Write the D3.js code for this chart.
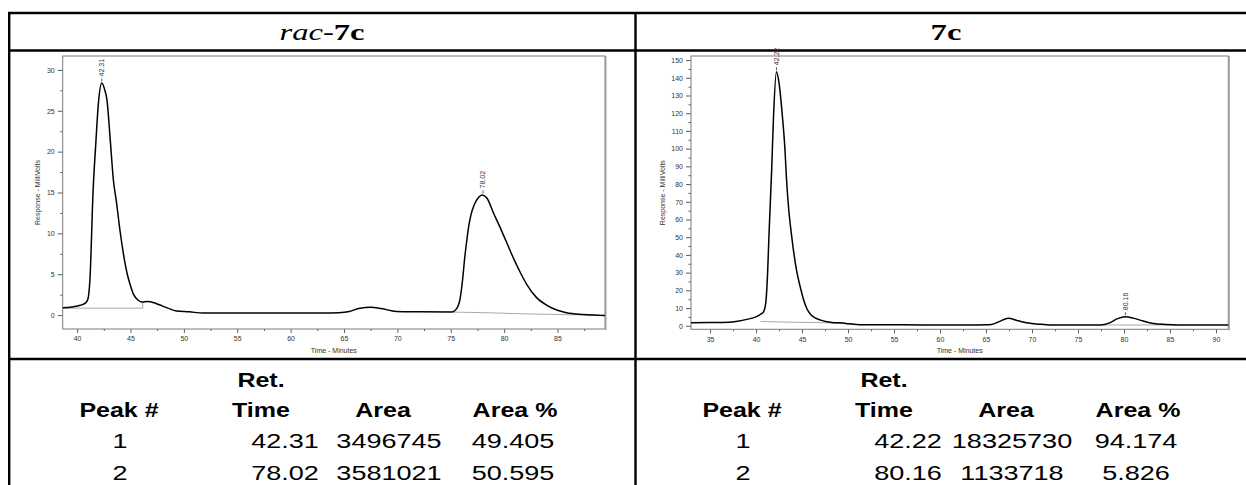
<!DOCTYPE html>
<html lang="en">
<head>
    <meta charset="UTF-8">
    <title>rac-7c / 7c HPLC</title>
    <script src="https://d3js.org/d3.v7.min.js"></script>
    <style>
        body { margin: 0; background: #fff; }
        .grid { stroke: #000; stroke-width: 2.4px; }
        .frame { fill: none; stroke: #7a7a7a; stroke-width: 1px; }
        .axis text { font-family: "Liberation Sans", Arial, sans-serif; font-size: 7px; fill: #333; }
        .axis line { stroke: #333; stroke-width: 0.8px; }
        .trace { fill: none; stroke: #000; stroke-width: 1.5px; stroke-linejoin: round; }
        .base { fill: none; stroke: #aaa; stroke-width: 1px; }
        .small { font-family: "Liberation Sans", Arial, sans-serif; font-size: 7px; fill: #333; }
        .title { font-family: "Liberation Serif", "Times New Roman", serif; font-size: 24px; }
        .cell { font-family: "Liberation Sans", Arial, sans-serif; font-size: 20.5px; fill: #000; }
    </style>
</head>
<body>
<svg width="1246" height="485"></svg>
<script>
    // ---- data ----
    var headTop = ["", "Ret.", "", ""];
    var headBottom = ["Peak #", "Time", "Area", "Area %"];
    var racRows = [["1", "42.31", "3496745", "49.405"], ["2", "78.02", "3581021", "50.595"]];
    var eeRows = [["1", "42.22", "18325730", "94.174"], ["2", "80.16", "1133718", "5.826"]];

    // rac-7c trace: [minutes, millivolts]
    var racTrace = [
        [38.65, 0.9], [39.5, 1.0], [40.3, 1.2], [40.8, 1.5], [41.0, 1.9], [41.2, 4.3],
        [41.5, 15.3], [41.75, 21], [42.0, 26], [42.31, 28.4], [42.6, 27.5], [42.8, 26.3],
        [43.1, 21.5], [43.4, 16.5], [43.7, 13.7], [44.0, 10.5], [44.3, 7.8], [44.7, 5.0],
        [45.0, 3.6], [45.3, 2.5], [45.7, 1.85], [46.1, 1.6], [46.6, 1.65], [47.2, 1.5],
        [47.7, 1.26], [48.5, 0.85], [49.3, 0.5], [50.5, 0.4], [51.8, 0.25], [55, 0.25],
        [60, 0.25], [63, 0.25], [64.5, 0.3], [65.5, 0.45], [66.5, 0.85], [67.5, 0.95],
        [68.5, 0.8], [69.9, 0.45], [72, 0.4], [75.1, 0.37], [75.5, 0.7], [75.86, 1.9],
        [76.1, 4.2], [76.3, 6.9], [76.5, 9.1], [76.7, 11.0], [76.9, 12.3], [77.2, 13.5],
        [77.6, 14.4], [77.95, 14.7], [78.4, 14.3], [79.0, 12.5], [79.6, 10.8], [80.2, 9.0],
        [81.0, 6.6], [81.6, 5.0], [82.1, 3.8], [83.0, 2.2], [84.0, 1.2], [85.0, 0.6],
        [85.85, 0.3], [87.4, 0.08], [89.45, -0.05]
    ];
    var racBase1 = [[38.65, 0.85], [46.15, 0.85], [46.15, 1.6]];
    var racBase2 = [[75.1, 0.37], [78, 0.3], [82, 0.15], [86, 0.05], [88.5, 0.0]];
    var racPeaks = [[42.31, 28.4, "42.31"], [78.02, 14.7, "78.02"]];

    // 7c trace
    var eeTrace = [
        [32.93, 1.7], [35, 1.8], [37, 2.0], [38, 2.6], [39, 3.6], [40, 5.0], [40.5, 6.5],
        [40.8, 7.7], [41.05, 12.6], [41.27, 31.4], [41.4, 50.3], [41.7, 88], [41.9, 118],
        [42.22, 143.4], [42.5, 137], [42.87, 118], [43.15, 99], [43.3, 84], [43.5, 69],
        [43.88, 50.3], [44.4, 31.4], [44.8, 22], [45.3, 12.6], [46.2, 5.1], [47.7, 2.3],
        [49.8, 1.3], [50.6, 0.8], [52, 0.5], [56, 0.5], [60, 0.4], [63, 0.4], [65, 0.5],
        [65.6, 0.7], [66.5, 2.5], [67.4, 4.2], [68.5, 2.8], [69.8, 1.35], [71, 0.8],
        [72.3, 0.4], [77.4, 0.4], [78.5, 1.8], [79.3, 4.0], [80.16, 5.1], [81, 4.3],
        [82, 2.8], [83.2, 1.3], [84.5, 0.7], [85.7, 0.4], [91.34, 0.4]
    ];
    var eeBase1 = [[40.5, 2.4], [44, 2.0], [47.7, 1.7], [50.6, 0.9]];
    var eeBase2 = [[77.4, 0.45], [85.7, 0.45]];
    var eePeaks = [[42.22, 143.4, "42.22"], [80.16, 5.1, "80.16"]];

    var racXTicks = [40, 45, 50, 55, 60, 65, 70, 75, 80, 85];
    var racYTicks = [0, 5, 10, 15, 20, 25, 30];
    var eeXTicks = [35, 40, 45, 50, 55, 60, 65, 70, 75, 80, 85, 90];
    var eeYTicks = [0, 10, 20, 30, 40, 50, 60, 70, 80, 90, 100, 110, 120, 130, 140, 150];

    var svg = d3.select("svg");
    svg.append("rect").attr("width", 1246).attr("height", 485).attr("fill", "#fff");

    // ---- table grid ----
    var grid = svg.append("g");
    [13, 50.5, 359].forEach(function(y) {
        grid.append("line").attr("class", "grid").attr("x1", 8).attr("x2", 1246).attr("y1", y).attr("y2", y);
    });
    [9.2, 635.5].forEach(function(x) {
        grid.append("line").attr("class", "grid").attr("x1", x).attr("x2", x).attr("y1", 12).attr("y2", 485);
    });

    // titles
    var t1 = svg.append("text").attr("class", "title").attr("text-anchor", "middle")
        .attr("transform", "translate(322,40) scale(1.36,1)");
    t1.append("tspan").attr("font-style", "italic").text("rac-");
    t1.append("tspan").attr("font-weight", "bold").text("7c");
    svg.append("text").attr("class", "title").attr("text-anchor", "middle").attr("font-weight", "bold")
        .attr("transform", "translate(946,40) scale(1.36,1)").text("7c");

    // ---- chromatograms ----
    function chart(opt) {
        var x = d3.scaleLinear().domain(opt.xd).range(opt.xr);
        var y = d3.scaleLinear().domain(opt.yd).range(opt.yr);
        var g = svg.append("g");

        var minorX = [], minorY = [];
        opt.xt.forEach(function(v) { minorX.push(v + opt.xs / 2); });
        minorX.push(opt.xt[0] - opt.xs / 2);
        opt.yt.forEach(function(v) { minorY.push(v + opt.ys / 2); });
        minorX = minorX.filter(function(v) { return v > opt.xd[0] && v < opt.xd[1]; });
        minorY = minorY.filter(function(v) { return v > opt.yd[0] && v < opt.yd[1]; });

        var yr = opt.yr[0];
        g.append("g").attr("class", "axis").attr("transform", "translate(0," + yr + ")")
            .call(d3.axisBottom(x).tickValues(opt.xt).tickSize(4).tickPadding(3.5))
            .call(function(s) { s.select(".domain").remove(); });
        g.append("g").attr("class", "axis").attr("transform", "translate(0," + yr + ")")
            .call(d3.axisBottom(x).tickValues(minorX).tickSize(2).tickFormat(""))
            .call(function(s) { s.select(".domain").remove(); });
        g.append("g").attr("class", "axis").attr("transform", "translate(" + opt.xr[0] + ",0)")
            .call(d3.axisLeft(y).tickValues(opt.yt).tickSize(5).tickPadding(3))
            .call(function(s) { s.select(".domain").remove(); });
        g.append("g").attr("class", "axis").attr("transform", "translate(" + opt.xr[0] + ",0)")
            .call(d3.axisLeft(y).tickValues(minorY).tickSize(2.5).tickFormat(""))
            .call(function(s) { s.select(".domain").remove(); });

        // frame
        g.append("rect").attr("class", "frame")
            .attr("x", opt.xr[0]).attr("y", opt.yr[1])
            .attr("width", opt.xr[1] - opt.xr[0]).attr("height", opt.yr[0] - opt.yr[1]);
        g.append("line").attr("x1", opt.xr[1] + 0.8).attr("x2", opt.xr[1] + 0.8)
            .attr("y1", opt.yr[1]).attr("y2", opt.yr[0] + 1)
            .attr("stroke", "#999").attr("stroke-width", 1.3);

        var line = d3.line().x(function(d) { return x(d[0]); }).y(function(d) { return y(d[1]); });
        opt.bases.forEach(function(b, i) {
            g.append("path").attr("class", "base")
                .attr("stroke", i === 0 && opt.darkFirst ? "#555" : "#aaa")
                .attr("d", line(b));
        });
        g.append("path").attr("class", "trace")
            .attr("d", line.curve(d3.curveMonotoneX)(opt.trace));

        // peak labels
        opt.peaks.forEach(function(p) {
            var px = x(p[0]), py = y(p[1]);
            g.append("line").attr("x1", px).attr("x2", px).attr("y1", py - 1.5).attr("y2", py - 4.5)
                .attr("stroke", "#333").attr("stroke-width", 0.8);
            g.append("text").attr("class", "small")
                .attr("transform", "translate(" + (px + 2.4) + "," + (py - 6.5) + ") rotate(-90)")
                .text(p[2]);
        });

        // axis titles
        g.append("text").attr("class", "small").attr("text-anchor", "middle")
            .attr("x", (opt.xr[0] + opt.xr[1]) / 2).attr("y", yr + 23.5)
            .text("Time - Minutes");
        g.append("text").attr("class", "small").attr("text-anchor", "middle")
            .attr("transform", "translate(" + opt.ytx + "," + (opt.yr[0] + opt.yr[1]) / 2 + ") rotate(-90)")
            .text("Response - MilliVolts");
    }

    chart({
        xd: [38.65, 89.45], xr: [62.7, 605], yd: [-1.7, 31.7], yr: [329, 56],
        xt: racXTicks, xs: 5, yt: racYTicks, ys: 5,
        trace: racTrace, bases: [racBase1, racBase2], darkFirst: true,
        peaks: racPeaks, ytx: 40
    });
    chart({
        xd: [32.93, 91.34], xr: [691, 1228.3], yd: [-2, 152.3], yr: [329.3, 56],
        xt: eeXTicks, xs: 5, yt: eeYTicks, ys: 10,
        trace: eeTrace, bases: [eeBase1, eeBase2], darkFirst: false,
        peaks: eePeaks, ytx: 664.5
    });

    // ---- result tables ----
    var headX = [119, 261, 383, 515];
    var valX = [120, 285, 389, 513];
    var rowY = [448, 480];

    function table(rows, dx) {
        headTop.forEach(function(t, i) {
            if (!t) return;
            svg.append("text").attr("class", "cell").attr("font-weight", "bold").attr("text-anchor", "middle")
                .attr("transform", "translate(" + (headX[i] + dx) + ",386.5) scale(1.22,1)").text(t);
        });
        headBottom.forEach(function(t, i) {
            svg.append("text").attr("class", "cell").attr("font-weight", "bold").attr("text-anchor", "middle")
                .attr("transform", "translate(" + (headX[i] + dx) + ",416.5) scale(1.22,1)").text(t);
        });
        rows.forEach(function(r, j) {
            r.forEach(function(t, i) {
                svg.append("text").attr("class", "cell").attr("text-anchor", "middle")
                    .attr("transform", "translate(" + (valX[i] + dx) + "," + rowY[j] + ") scale(1.32,1)").text(t);
            });
        });
    }
    table(racRows, 0);
    table(eeRows, 623);
</script>
</body>
</html>
